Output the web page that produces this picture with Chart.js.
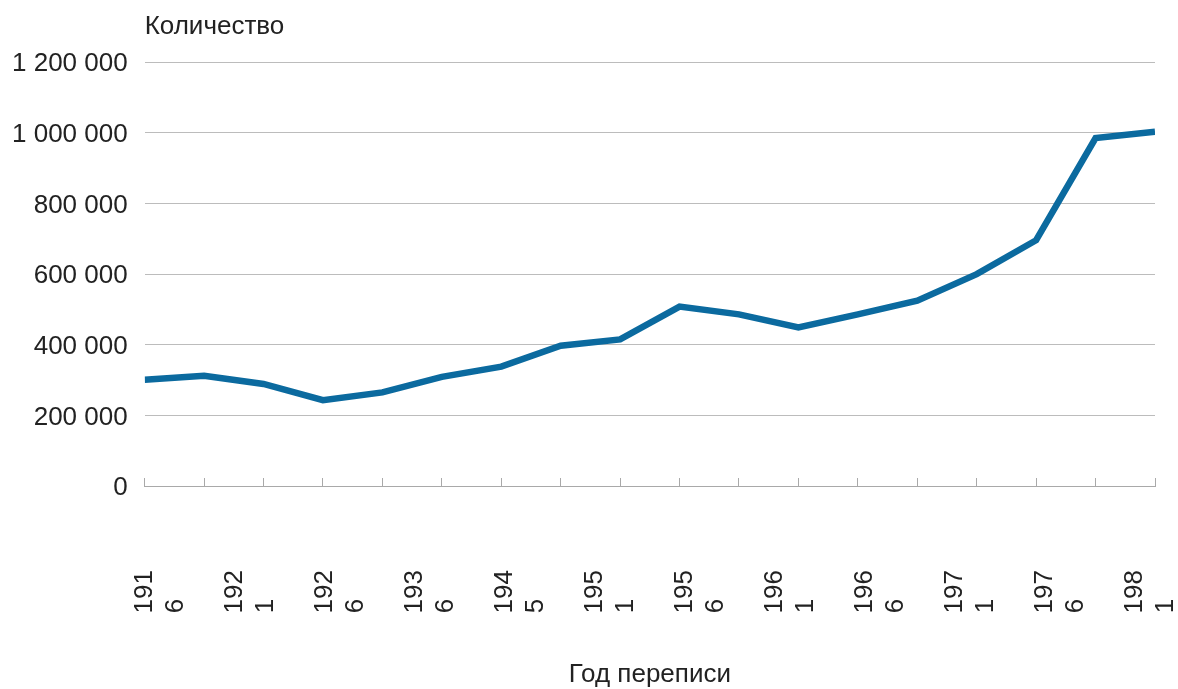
<!DOCTYPE html>
<html><head><meta charset="utf-8">
<script src="https://cdn.jsdelivr.net/npm/chart.js@4.4.1/dist/chart.umd.min.js"></script>
<style>html,body{margin:0;padding:0;background:#fff;}canvas{display:block;}</style>
</head><body>
<canvas id="c" width="1178" height="689"></canvas>
<script>
// ---- data ----
const censusValues = [301000, 312000, 289000, 243000, 265000, 309000, 338000, 397000, 415000,
                      508000, 486000, 449000, 486000, 525000, 600000, 696000, 985000, 1003000];
const tickLabels = ['1916', '1921', '1926', '1936', '1945', '1951', '1956', '1961', '1966', '1971', '1976', '1981'];
const yTickValues = [0, 200000, 400000, 600000, 800000, 1000000, 1200000];
const yTitle = 'Количество';
const xTitle = 'Год переписи';

// ---- layout constants ----
const FONT = '"Liberation Sans", Arial, sans-serif';
const TEXT = '#222222';
const CLEAR = 'rgba(0,0,0,0)';
const LABEL_AXIS_MAX = (tickLabels.length - 1) / 0.98;

function fmt(v) { return String(v).replace(/\B(?=(\d{3})+(?!\d))/g, ' '); }
function wrapLabel(s) { return [s.slice(0, 3), s.slice(3) + '    ']; }

new Chart(document.getElementById('c'), {
  type: 'line',
  data: {
    datasets: [{
      data: censusValues.map((v, i) => ({ x: i, y: v })),
      borderColor: '#0b6a9f',
      borderWidth: 6.5,
      pointRadius: 0,
      tension: 0,
      borderJoinStyle: 'miter',
      borderCapStyle: 'butt',
      xAxisID: 'x',
      yAxisID: 'y'
    }]
  },
  options: {
    responsive: false,
    animation: false,
    layout: { padding: { left: 12, right: 23, top: 0, bottom: 0 } },
    plugins: {
      legend: { display: false },
      tooltip: { enabled: false },
      title: {
        display: true, text: yTitle, align: 'start', fullSize: false,
        color: TEXT, font: { family: FONT, size: 26, weight: 'normal' },
        padding: { top: 11, bottom: 20 }
      }
    },
    scales: {
      x: {
        type: 'linear', position: 'bottom',
        min: 0, max: censusValues.length - 1,
        afterBuildTicks: s => { s.ticks = censusValues.map((_, i) => ({ value: i })); },
        ticks: { display: false },
        grid: { drawOnChartArea: false, drawTicks: true, tickLength: -8, color: '#a9a9a9', lineWidth: 1 },
        border: { display: true, color: '#a9a9a9', width: 1 }
      },
      xl: {
        type: 'linear', position: 'bottom',
        min: 0, max: LABEL_AXIS_MAX,
        afterBuildTicks: s => { s.ticks = tickLabels.map((_, i) => ({ value: i })); },
        afterFit: s => { s.paddingLeft = 0; s.paddingRight = 0; },
        ticks: {
          autoSkip: false, minRotation: 90, maxRotation: 90, padding: 0,
          color: TEXT, font: { family: FONT, size: 26 },
          callback: (v, i) => wrapLabel(tickLabels[i])
        },
        grid: { display: true, drawOnChartArea: false, drawTicks: true, tickLength: 92, color: CLEAR, tickColor: CLEAR },
        border: { display: false },
        title: {
          display: true, text: xTitle, color: TEXT,
          font: { family: FONT, size: 26 },
          padding: { top: 45.4, bottom: -9 }
        }
      },
      y: {
        min: 0, max: 1200000,
        afterBuildTicks: s => { s.ticks = yTickValues.map(v => ({ value: v })); },
        ticks: { color: TEXT, font: { family: FONT, size: 26 }, padding: 0, labelOffset: 2, callback: v => fmt(v) },
        grid: { color: '#bcbcbc', lineWidth: 1, drawTicks: true, tickLength: 17, tickColor: CLEAR },
        border: { display: false }
      }
    }
  }
});
</script>
</body></html>
